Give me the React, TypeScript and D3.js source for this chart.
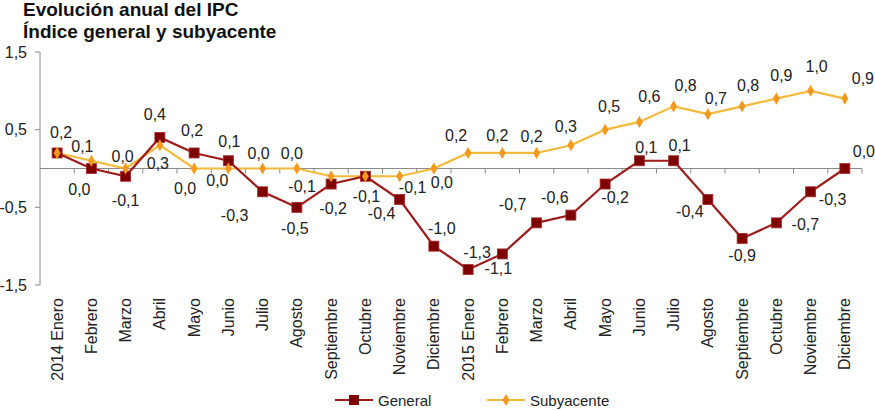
import React from "react";
import * as d3 from "d3";

const categories = [
  "2014 Enero", "Febrero", "Marzo", "Abril", "Mayo", "Junio", "Julio", "Agosto",
  "Septiembre", "Octubre", "Noviembre", "Diciembre",
  "2015 Enero", "Febrero", "Marzo", "Abril", "Mayo", "Junio", "Julio", "Agosto",
  "Septiembre", "Octubre", "Noviembre", "Diciembre",
];
const general = [0.2, 0.0, -0.1, 0.4, 0.2, 0.1, -0.3, -0.5, -0.2, -0.1, -0.4, -1.0,
  -1.3, -1.1, -0.7, -0.6, -0.2, 0.1, 0.1, -0.4, -0.9, -0.7, -0.3, 0.0];
const subyacente = [0.2, 0.1, 0.0, 0.3, 0.0, 0.0, 0.0, 0.0, -0.1, -0.1, -0.1, 0.0,
  0.2, 0.2, 0.2, 0.3, 0.5, 0.6, 0.8, 0.7, 0.8, 0.9, 1.0, 0.9];
const yTicks = [1.5, 0.5, -0.5, -1.5];
const seriesNames = ["General", "Subyacente"];

// label offsets (dx, dy) relative to each point
const generalLabelOffsets: [number, number][] = [
  [4, -20], [-12, 21], [0, 24], [-5, -23], [-2, -22], [1, -19], [-28, 24], [-2, 21],
  [2, 24], [1, 20], [-18, 14], [8, -18], [9, -17], [-4, 15], [-24, -18], [-16, -18],
  [10, 13], [7, -13], [6, -15], [-18, 12], [0, 17], [29, 2], [22, 8], [19, -17],
];
const subLabelOffsets: [number, number][] = [
  [4, -20], [-9, -14], [-3, -12], [-2, 18], [-9, 20], [-11, 12], [-4, -15], [-5, -15],
  [-29, 10], [1, 20], [13, 11], [8, 14], [-12, -17], [-5, -17], [-5, -16], [-5, -19],
  [4, -23], [10, -25], [12, -21], [8, -16], [6, -21], [5, -23], [6, -24], [18, -20],
];
const hiddenSubLabels = [0, 9];

const W = 875;
const H = 410;
const FONT = "'Liberation Sans', Arial, sans-serif";
const GEN_LINE = "#9e1b1b";
const GEN_MARK = "#7f0000";
const SUB_LINE = "#f3b93a";
const SUB_MARK = "#f39a1e";

const fmt = (v: number) => d3.format(".1f")(v).replace(".", ",").replace("−", "-");

export default function App() {
  const x = d3.scaleBand<number>().domain(d3.range(categories.length)).range([40, 862]);
  const y = d3.scaleLinear().domain([-1.5, 1.5]).range([285, 52]);
  const cx = (i: number) => (x(i) as number) + x.bandwidth() / 2;
  const y0 = y(0);

  const line = d3.line<number>().x((_, i) => cx(i)).y((v) => y(v));
  const diamond = d3.symbol().type(d3.symbolDiamond).size(42)();

  const boundaries = d3.range(categories.length + 1).map((i) => 40 + i * x.step());

  return (
    <svg width={W} height={H} style={{ position: "absolute", left: 0, top: 0, background: "#fff" }}
      fontFamily={FONT}>
      <text x={23} y={16} fontSize={19} fontWeight="bold" fill="#111">Evolución anual del IPC</text>
      <text x={23} y={38} fontSize={19} fontWeight="bold" fill="#111">Índice general y subyacente</text>

      {/* y axis */}
      <line x1={40} x2={40} y1={y(1.5)} y2={y(-1.5)} stroke="#8a8a8a" strokeWidth={1} />
      {yTicks.map((t) => (
        <g key={t}>
          <line x1={35} x2={40} y1={y(t)} y2={y(t)} stroke="#8a8a8a" />
          <text x={27} y={y(t) + 5.5} textAnchor="end" fontSize={16} fill="#222">{fmt(t)}</text>
        </g>
      ))}

      {/* x axis at zero */}
      <line x1={40} x2={862} y1={y0} y2={y0} stroke="#8a8a8a" />
      {boundaries.slice(1).map((bx, i) => (
        <line key={i} x1={bx} x2={bx} y1={y0} y2={y0 + 5} stroke="#8a8a8a" />
      ))}

      {categories.map((c, i) => (
        <text key={i} transform={`translate(${cx(i) + 5.5},298) rotate(-90)`} textAnchor="end"
          fontSize={16} fill="#222">{c}</text>
      ))}

      {/* series lines */}
      <path d={line(subyacente) || ""} fill="none" stroke={SUB_LINE} strokeWidth={2.2} />
      <path d={line(general) || ""} fill="none" stroke={GEN_LINE} strokeWidth={2.2} />

      {general.map((v, i) => (
        <rect key={"g" + i} x={cx(i) - 5} y={y(v) - 5} width={10} height={10} fill={GEN_MARK}
          stroke="#a52a2a" strokeWidth={0.8} />
      ))}
      {subyacente.map((v, i) => (
        <path key={"s" + i} d={diamond || ""} transform={`translate(${cx(i)},${y(v)})`} fill={SUB_MARK} />
      ))}

      {/* data labels */}
      {general.map((v, i) => (
        <text key={"gl" + i} x={cx(i) + generalLabelOffsets[i][0]} y={y(v) + generalLabelOffsets[i][1] + 5.5}
          textAnchor="middle" fontSize={16} fill="#222">{fmt(v)}</text>
      ))}
      {subyacente.map((v, i) =>
        hiddenSubLabels.includes(i) ? null : (
          <text key={"sl" + i} x={cx(i) + subLabelOffsets[i][0]} y={y(v) + subLabelOffsets[i][1] + 5.5}
            textAnchor="middle" fontSize={16} fill="#222">{fmt(v)}</text>
        )
      )}

      {/* legend */}
      <g>
        <line x1={335} x2={373} y1={400} y2={400} stroke={GEN_LINE} strokeWidth={2.2} />
        <rect x={349} y={395} width={10} height={10} fill={GEN_MARK} />
        <text x={378} y={405.5} fontSize={15} fill="#222">{seriesNames[0]}</text>
        <line x1={487} x2={525} y1={400} y2={400} stroke={SUB_LINE} strokeWidth={2.2} />
        <path d={diamond || ""} transform="translate(506,400)" fill={SUB_MARK} />
        <text x={530} y={405.5} fontSize={15} fill="#222">{seriesNames[1]}</text>
      </g>
    </svg>
  );
}
